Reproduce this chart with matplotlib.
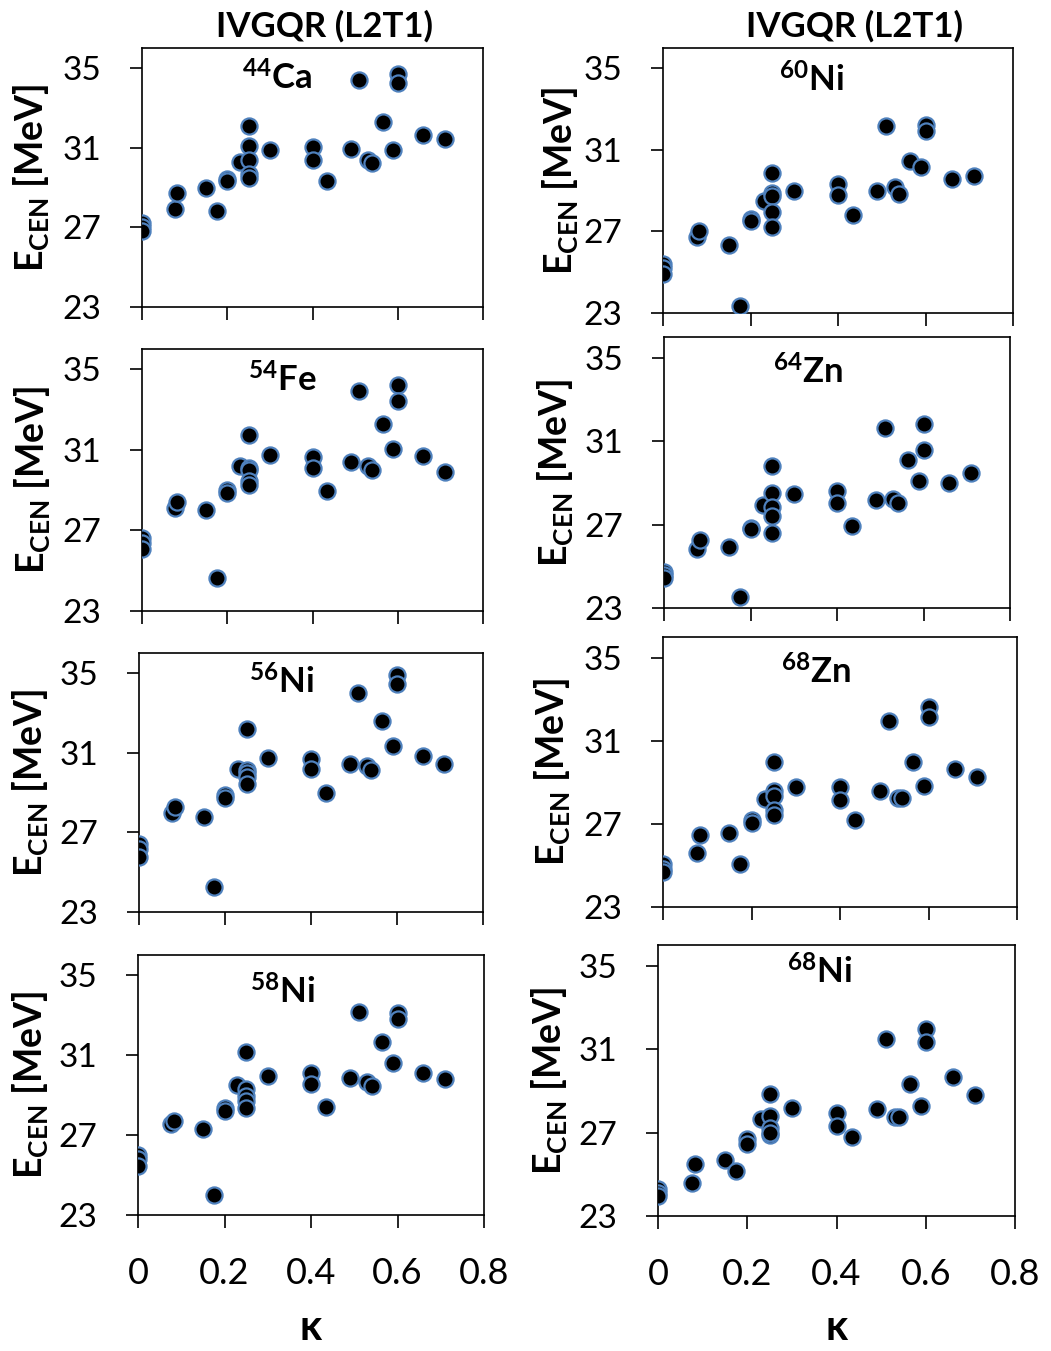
import matplotlib
matplotlib.use("Agg")
import matplotlib.pyplot as plt

plt.rcParams["font.family"] = ["Lato", "DejaVu Sans"]
plt.rcParams["mathtext.fontset"] = "custom"
plt.rcParams["mathtext.rm"] = "Lato"
plt.rcParams["mathtext.bf"] = "Lato:bold"

W, H = 1051, 1351  # output size in pixels (dpi 100)

# kappa values shared by all nuclei
KAPPA = [0.0, 0.0, 0.0, 0.077, 0.083, 0.15, 0.175, 0.2, 0.2, 0.23,
         0.25, 0.25, 0.25, 0.25, 0.25, 0.30, 0.40, 0.40, 0.435, 0.49,
         0.51, 0.53, 0.54, 0.565, 0.59, 0.60, 0.60, 0.66, 0.71]

# centroid energies E_CEN [MeV], same order as KAPPA
E_CA44 = [27.2, 27.0, 26.8, 27.9, 28.7, 28.95, 27.8, 29.4, 29.3, 30.3,
          32.1, 31.1, 30.4, 29.7, 29.5, 30.9, 31.05, 30.4, 29.3, 30.95,
          34.4, 30.4, 30.25, 32.3, 30.9, 34.7, 34.25, 31.65, 31.45]
E_NI60 = [25.4, 25.2, 24.9, 26.75, 27.0, 26.35, 23.35, 27.6, 27.5, 28.5,
          29.85, 28.9, 28.75, 27.95, 27.2, 29.0, 29.35, 28.8, 27.8, 29.0,
          32.15, 29.2, 28.85, 30.45, 30.15, 32.2, 31.95, 29.55, 29.7]
E_FE54 = [26.6, 26.35, 26.1, 28.1, 28.4, 28.0, 24.65, 29.0, 28.85, 30.2,
          31.75, 30.1, 30.0, 29.45, 29.25, 30.75, 30.65, 30.1, 28.95, 30.4,
          33.9, 30.2, 30.0, 32.3, 31.05, 34.2, 33.4, 30.7, 29.9]
E_ZN64 = [24.75, 24.6, 24.45, 25.85, 26.25, 25.95, 23.55, 26.85, 26.8, 27.95,
          29.8, 28.5, 27.85, 27.4, 26.6, 28.45, 28.6, 28.05, 26.95, 28.2,
          31.65, 28.25, 28.05, 30.1, 29.1, 31.85, 30.6, 29.0, 29.5]
E_NI56 = [26.4, 26.15, 25.75, 27.95, 28.25, 27.75, 24.25, 28.85, 28.7, 30.2,
          32.2, 30.15, 30.0, 29.8, 29.4, 30.75, 30.7, 30.2, 28.95, 30.45,
          34.0, 30.35, 30.15, 32.6, 31.35, 34.9, 34.45, 30.85, 30.45]
E_ZN68 = [25.05, 24.85, 24.7, 25.6, 26.45, 26.55, 25.05, 27.2, 27.05, 28.2,
          30.0, 28.6, 28.35, 27.65, 27.45, 28.8, 28.8, 28.15, 27.2, 28.6,
          31.95, 28.25, 28.25, 30.0, 28.85, 32.65, 32.15, 29.65, 29.25]
E_NI58 = [26.0, 25.8, 25.45, 27.55, 27.7, 27.3, 24.0, 28.35, 28.2, 29.5,
          31.15, 29.3, 28.95, 28.7, 28.35, 29.95, 30.1, 29.55, 28.4, 29.85,
          33.15, 29.65, 29.45, 31.65, 30.6, 33.1, 32.8, 30.1, 29.8]
E_NI68 = [24.3, 24.1, 23.95, 24.6, 25.5, 25.7, 25.15, 26.7, 26.45, 27.65,
          28.85, 27.8, 27.2, 26.9, 27.0, 28.2, 27.95, 27.3, 26.8, 28.15,
          31.5, 27.75, 27.75, 29.35, 28.3, 31.95, 31.35, 29.65, 28.8]

MASS = ["44", "60", "54", "64", "56", "68", "58", "68"]
SYMBOL = ["Ca", "Ni", "Fe", "Zn", "Ni", "Zn", "Ni", "Ni"]
ENERGIES = [E_CA44, E_NI60, E_FE54, E_ZN64, E_NI56, E_ZN68, E_NI58, E_NI68]

Y_TICKS = [23, 27, 31, 35]
X_TICKS = [0, 0.2, 0.4, 0.6, 0.8]
X_TICK_LABELS = ["0", "0.2", "0.4", "0.6", "0.8"]
TITLE = "IVGQR (L2T1)"

# panel boxes in pixels: left, top, right, bottom
BOXES = [(142, 48, 483, 307), (663, 48, 1013, 313),
         (142, 349, 483, 611), (664, 337, 1010, 608),
         (139, 653, 483, 912), (663, 637, 1017, 907),
         (138, 955, 484, 1215), (658, 945, 1015, 1216)]
# nucleus label anchor (centre x, baseline y) in pixels
LABEL_POS = [(277, 90), (812, 91), (282, 392), (808, 384),
             (282, 693), (816, 684), (283, 1003), (820, 983)]
TITLE_POS = [(324, 37), (854, 37)]
YLABEL_X = [31, 560, 32, 555, 30, 552, 30, 549]  # centre of rotated y label


def main() -> None:
    fig = plt.figure(figsize=(W / 100, H / 100), dpi=100)

    for i, (box, e) in enumerate(zip(BOXES, ENERGIES)):
        l, t, r, b = box
        ax = fig.add_axes([l / W, 1 - b / H, (r - l) / W, (b - t) / H])
        ax.scatter(KAPPA, e, s=135, facecolor="black",
                   edgecolor="#4f81bd", linewidth=1.6, zorder=3)
        ax.set_xlim(0, 0.8)
        ax.set_ylim(23, 36)
        ax.set_xticks(X_TICKS)
        ax.set_yticks(Y_TICKS)
        ax.tick_params(axis="y", direction="out", length=9, width=1.2,
                       labelsize=24, pad=20)
        ax.tick_params(axis="x", direction="out", length=9.5, width=1.2,
                       labelsize=26, pad=21)
        for sp in ax.spines.values():
            sp.set_linewidth(1.2)
        ax.set_ylabel(r"$\mathbf{E_{CEN}}$ [MeV]", fontsize=27,
                      fontweight="bold")
        ax.yaxis.label.set_va("center")
        ax.yaxis.set_label_coords(-(l - YLABEL_X[i]) / (r - l), 0.5)
        if i >= 6:
            ax.set_xticklabels(X_TICK_LABELS)
            ax.set_xlabel("κ", fontsize=30, fontweight="bold")
            ax.xaxis.set_label_coords(0.5, -(1328 - b) / (b - t))
            ax.xaxis.label.set_va("center")
        else:
            ax.set_xticklabels([])

        lx, ly = LABEL_POS[i]
        fig.text(lx / W, 1 - ly / H,
                 r"$\mathbf{^{%s}%s}$" % (MASS[i], SYMBOL[i]),
                 ha="center", va="baseline", fontsize=25)

    for tx, ty in TITLE_POS:
        fig.text(tx / W, 1 - ty / H, TITLE, ha="center", va="baseline",
                 fontsize=25, fontweight="bold")

    fig.savefig("out.png", dpi=100)
    plt.close(fig)


if __name__ == "__main__":
    main()
